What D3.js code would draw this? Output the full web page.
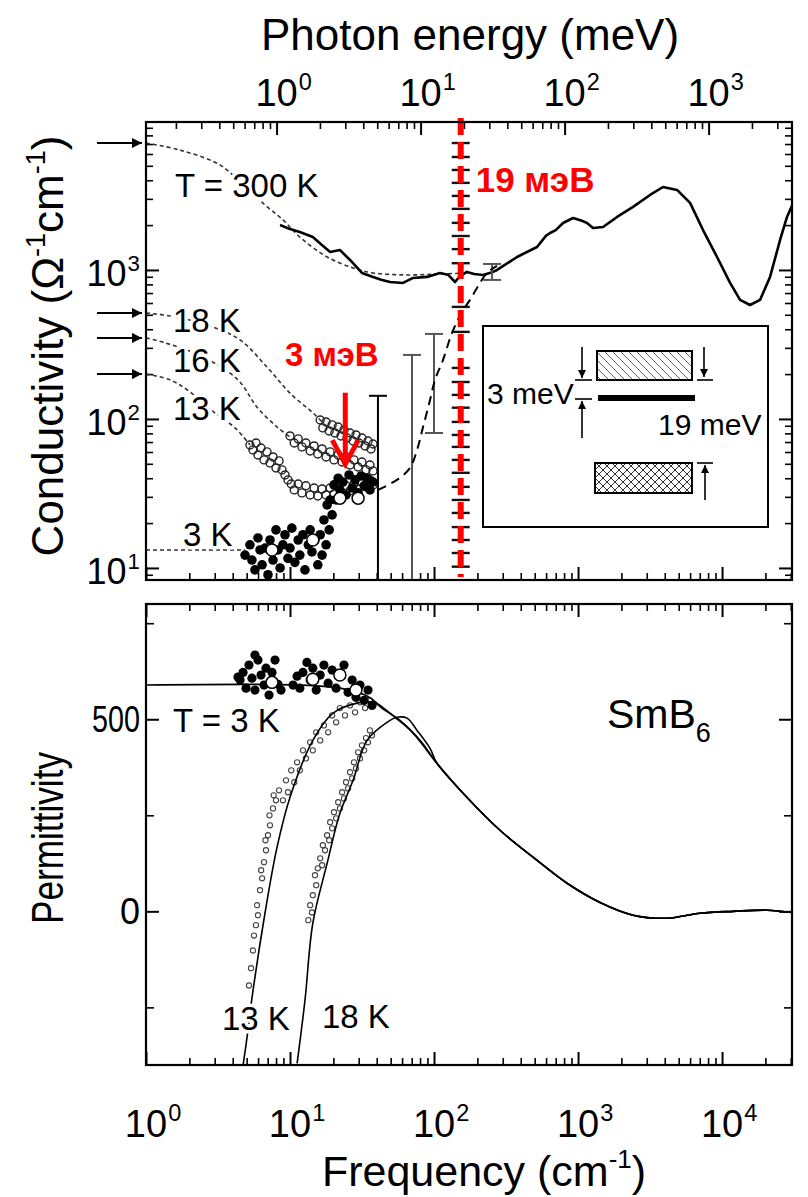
<!DOCTYPE html>
<html><head><meta charset="utf-8">
<script src="https://cdn.jsdelivr.net/npm/d3@7"></script>
<style>body{margin:0;background:#fff}svg{display:block}text{font-family:"Liberation Sans",Arial,Helvetica,sans-serif;fill:#000}</style>
</head><body><svg id="c" width="808" height="1197"></svg>
<script>
// ---------------- DATA ----------------
const freqDomain = [1, 30600];          // cm^-1
const sigmaDomain = [8.3, 9840];         // Ohm^-1 cm^-1
const epsDomain = [-400, 800];
const CM_PER_MEV = 8.0655;
const freqTickMajors = [1, 10, 100, 1000, 10000];
const energyTickMajors = [1, 10, 100, 1000];
const sigmaTickMajors = [10, 100, 1000];
const epsTickMajors = [0, 500];
const epsTickMinors = [-250, 250, 750];
const gapMeV = 19;            // red dashed line
const impurityMeV = 3;        // red arrow
const redArrowSigma = [150, 49];

// T = 300 K measured conductivity
const sigma300 = [[8.53,2004],[10.0,1880],[11.7,1799],[14.4,1664],[16.5,1480],[19.0,1321],[22.2,1361],[26.1,1167],[31.6,955],[37.7,898],[43,860],[49.5,830],[60.9,818],[71.5,884],[89.4,898],[110,955],[125,930],[140,830],[150,900],[169,970],[190,940],[219,926],[250,960],[274,1000],[377,1222],[519,1426],[600,1700],[640,1771],[700,1850],[787,2065],[923,2233],[1050,2150],[1155,2065],[1271,1913],[1492,1944],[1867,2269],[2410,2649],[3162,3187],[3893,3604],[4870,3444],[5997,2817],[7380,1853],[9230,1222],[11370,818],[13340,629],[15640,582],[18360,629],[21540,898],[25290,1589],[28260,2269],[30600,2700]];
// dashed fits
const fit300 = [[1,7110],[1.72,6380],[3.26,5070],[4.72,3715],[6.70,2730],[8.94,2168],[11.7,1664],[18.1,1222],[27.4,1032],[37.7,955],[64.9,926],[110,940],[178,955]];
const fit18 = [[1,514],[1.47,491],[2.6,430],[4.50,339],[6.92,223],[10.0,149],[14.4,110],[16.7,95.5]];
const fit16 = [[1,350],[1.36,324],[2.5,260],[4.35,183],[5.90,120],[8.13,88.3],[10.0,75.7]];
const fit13 = [[1,200],[1.47,183],[2.02,152],[3.0,110],[4.15,87.1],[5.27,66.9]];
const fit3 = [[1,13.2],[4.87,13.2]];
const ext3 = [[40.8,33.4],[55.3,39.0],[68.1,46.9],[76.2,61.9],[83.9,88.3],[93.8,134],[101.6,183],[115.5,249],[133.4,378],[156.4,523],[177.8,630],[208.6,818],[233,955],[273.8,1064]];
const dcSigma = [7110, 514, 350, 200];   // arrows at left
// measured points
const sig18 = [[16.2,98.4],[16.9,87.1],[17.8,95.5],[18.7,83.1],[19.6,91.2],[20.5,80.5],[21.6,88.3],[22.6,76.9],[23.7,84.4],[24.9,74.5],[26.1,80.5],[27.4,71.1],[28.7,78.1],[30.1,69.0],[31.6,74.5],[33.2,65.9],[34.8,71.1],[36.5,62.9],[37.7,67.9]];
const sig16 = [[10.0,76.9],[10.7,69.0],[11.4,73.5],[12.1,64.9],[12.9,69.0],[13.8,61.0],[14.7,65.9],[15.6,58.2],[16.7,62.9],[17.8,55.6],[19.0,60.1],[20.2,53.1],[21.6,57.3],[23.0,51.4],[24.5,55.6],[26.1,49.1],[27.8,53.1],[29.7,47.6],[31.6,51.4],[33.7,45.5],[35.9,49.1],[37.7,44.8]];
const sig13 = [[5.27,66.9],[5.53,62.0],[5.81,69.0],[5.99,57.3],[6.29,63.8],[6.60,53.1],[6.92,60.1],[7.26,50.7],[7.62,55.6],[7.99,46.9],[8.39,52.3],[8.80,45.5],[9.23,42.1],[9.68,39.0],[10.2,36.6],[10.7,33.4],[11.4,36.6],[12.1,31.9],[12.9,35.6],[13.8,30.9],[14.7,34.4],[15.6,30.4],[16.7,33.9],[17.8,30.9],[19.0,34.4],[20.2,31.4],[21.6,35.0],[23.0,31.9],[24.5,35.6],[26.1,32.9],[27.8,36.6],[29.7,33.9],[31.6,37.7],[33.7,35.0],[35.9,39.0],[37.7,36.1]];
const sig3 = [[4.87,12.2],[5.27,14.3],[5.44,11.3],[5.71,9.7],[5.99,15.9],[6.19,13.2],[6.40,10.5],[6.70,13.6],[7.03,9.0],[7.26,15.4],[7.62,11.3],[7.99,18.0],[8.25,13.2],[8.53,10.0],[8.93,14.3],[9.23,16.7],[9.68,11.6],[10.0,13.6],[10.3,18.5],[10.8,10.9],[11.4,15.4],[11.7,12.2],[12.3,16.7],[12.7,9.7],[13.4,14.3],[13.8,18.0],[14.2,12.8],[14.9,15.4],[15.6,10.5],[16.2,16.7],[16.7,12.2],[17.2,21.0],[17.8,14.3],[18.1,26.5],[18.7,18.0],[19.0,28.6],[19.6,22.7],[20.2,36.1],[20.9,28.6],[21.6,40.0],[22.2,33.4],[23.3,37.7],[24.5,30.9],[25.7,42.1],[27.0,34.4],[28.3,39.0],[29.7,31.9],[31.2,41.4],[32.7,35.6],[34.3,40.0],[35.9,33.4],[37.7,37.7]];
const sig3Open = [[7.5,13.2],[14.4,15.4],[22.2,29.4],[29.7,29.4]];
// error bars
const errF = [40.8, 70.3, 100, 253];
const errHi = [143, 269, 372, 1097];
const errLo = [8.3, 8.3, 80.5, 857];
// marks along the 19 meV line
const capLevels = [7110,5730,4690,3840,3140,2570,2070,1690,1380,1110,565,384,220,177,145,119,95.5,78.1,64.9,53.1,43.5,35.0,28.6,23.4,18.8,15.4,12.6,10.2];

// permittivity
const epsTail = [[105,385],[169,297],[287,211],[487,141],[839,73],[1422,23],[2410,-10],[4150,-18],[7030,-5],[11920,0],[20540,3],[30600,-3]];
const eps3Line = [[1,589],[11.7,589],[22.2,581],[33.2,563],[42.2,536],[53.6,505],[71.5,464]];
const eps13Line = [[4.72,-401],[5.03,-328],[5.45,-224],[6.70,-5],[8.13,167],[10.0,297],[14.4,445],[19.9,516],[29.2,542],[37.7,544],[45.7,523],[58,497],[80,445]];
const eps18Line = [[11.2,-396],[12.7,-232],[14.4,-31],[18.1,125],[22.2,255],[27.4,341],[34.3,445],[47.2,492],[55.3,505],[64.9,503],[76.2,471],[93.8,424]];
const eps3 = [[4.50,602],[4.72,622],[4.95,581],[5.19,641],[5.44,607],[5.71,576],[5.99,654],[6.29,615],[6.60,589],[6.81,633],[7.15,563],[7.50,622],[7.87,654],[8.25,591],[8.66,576],[10.5,589],[11.2,612],[11.7,581],[12.3,622],[13.1,648],[13.8,602],[14.4,633],[15.2,576],[16.2,615],[17.2,641],[18.4,594],[19.6,628],[20.9,581],[22.2,615],[23.7,641],[25.3,570],[27.0,602],[28.7,557],[30.6,589],[32.7,549],[34.8,576],[37.1,536],[5.71,667],[4.35,610]];
const eps3Open = [[7.50,596],[14.4,604],[22.2,615],[28.7,576]];
const eps13 = [[5.19,-193],[5.36,-148],[5.53,-102],[5.62,-63],[5.80,-36],[5.90,16],[5.99,-10],[6.19,55],[6.40,86],[6.30,107],[6.60,128],[6.81,159],[6.75,185],[7.03,198],[7.26,224],[7.20,250],[7.62,268],[7.99,289],[7.70,302],[8.39,315],[8.93,289],[9.38,341],[9.68,310],[10.2,367],[10.7,336],[11.2,388],[11.7,367],[12.3,419],[12.9,398],[13.8,440],[14.4,419],[15.2,466],[16.2,445],[17.2,484],[18.4,466],[19.6,510],[20.9,492],[22.2,529],[24.1,510],[26.1,536],[28.3,518],[30.6,544],[33.2,529],[35.9,549]];
const eps18 = [[13.4,-23],[13.8,16],[14.2,-3],[14.4,42],[15.2,68],[14.9,94],[15.6,112],[16.2,138],[16.7,120],[16.9,172],[17.5,159],[18.1,198],[18.7,185],[19.0,232],[19.6,216],[20.2,258],[20.9,242],[21.6,284],[22.2,268],[23.0,310],[23.7,294],[24.5,336],[25.3,320],[26.1,362],[27.0,346],[27.8,388],[28.7,372],[29.7,414],[30.6,398],[31.6,432],[32.7,419],[33.7,451],[34.8,440],[35.9,471],[37.1,458]];

// ---------------- DRAWING ----------------
const svg = d3.select("#c");
const L = 146, R = 792, T1 = 122, B1 = 580, T2 = 604, B2 = 1065;
const x = d3.scaleLog().domain(freqDomain).range([L, R]);
const xE = d3.scaleLog().domain(freqDomain.map(f => f / CM_PER_MEV)).range([L, R]);
const yT = d3.scaleLog().domain(sigmaDomain).range([B1, T1]);
const yB = d3.scaleLinear().domain(epsDomain).range([B2, T2]);

const defs = svg.append("defs");
defs.append("clipPath").attr("id","clipT").append("rect").attr("x",L).attr("y",T1).attr("width",R-L).attr("height",B1-T1);
defs.append("clipPath").attr("id","clipB").append("rect").attr("x",L).attr("y",T2).attr("width",R-L).attr("height",B2-T2);
const ph = defs.append("pattern").attr("id","hatch").attr("patternUnits","userSpaceOnUse").attr("width",8).attr("height",8);
ph.append("path").attr("d","M-1,-1L9,9M-1,7L1,9M7,-1L9,1").attr("stroke","#666").attr("stroke-width",1);
const pc = defs.append("pattern").attr("id","xhatch").attr("patternUnits","userSpaceOnUse").attr("width",8).attr("height",8);
pc.append("path").attr("d","M-1,-1L9,9M-1,7L1,9M7,-1L9,1M-1,9L9,-1M-1,1L1,-1M7,9L9,7").attr("stroke","#333").attr("stroke-width",1);
function marker(id, w, h, color){
  defs.append("marker").attr("id",id).attr("viewBox","0 0 10 10").attr("refX",10).attr("refY",5)
    .attr("markerWidth",w).attr("markerHeight",h).attr("markerUnits","userSpaceOnUse").attr("orient","auto")
    .append("path").attr("d","M0,0L10,5L0,10z").attr("fill",color);
}
marker("ahL", 13, 10, "#000");
marker("ahS", 8, 8, "#000");

function logVals(scale){
  const [a,b] = scale.domain(), out = [];
  for (let e = Math.floor(Math.log10(a)); e <= Math.ceil(Math.log10(b)); e++)
    for (let k = 1; k < 10; k++){ const v = k * Math.pow(10,e); if (v >= a*0.999 && v <= b*1.001) out.push({v, major:k===1}); }
  return out;
}
function tickSet(tr, axisGen, scale, vals, len, sw){
  const g = svg.append("g").attr("transform", tr);
  g.call(axisGen(scale).tickValues(vals).tickSize(len).tickFormat(""));
  g.select(".domain").remove();
  g.selectAll("text").remove();
  g.selectAll("line").attr("stroke","#000").attr("stroke-width",sw);
}
function logTicks(tr, axisGen, scale){
  const v = logVals(scale);
  tickSet(tr, axisGen, scale, v.filter(d=>d.major).map(d=>d.v), 13, 2);
  tickSet(tr, axisGen, scale, v.filter(d=>!d.major).map(d=>d.v), 7, 1.6);
}
// top panel ticks
logTicks(`translate(0,${T1})`, d3.axisBottom, xE);
logTicks(`translate(0,${B1})`, d3.axisTop, x);
logTicks(`translate(${L},0)`, d3.axisRight, yT);
logTicks(`translate(${R},0)`, d3.axisLeft, yT);
// bottom panel ticks
logTicks(`translate(0,${T2})`, d3.axisBottom, x);
logTicks(`translate(0,${B2})`, d3.axisTop, x);
tickSet(`translate(${L},0)`, d3.axisRight, yB, epsTickMajors, 13, 2);
tickSet(`translate(${L},0)`, d3.axisRight, yB, epsTickMinors, 8, 1.6);
tickSet(`translate(${R},0)`, d3.axisLeft, yB, epsTickMajors, 13, 2);
tickSet(`translate(${R},0)`, d3.axisLeft, yB, epsTickMinors, 8, 1.6);

// power-of-ten labels
function powLabel(px, py, e, fs, align){
  const g = svg.append("g");
  const t = g.append("text").attr("y",py).attr("font-size",fs).text("10");
  const s = g.append("text").attr("y",py - fs*0.42).attr("font-size",fs*0.62).text(e);
  const w = t.node().getComputedTextLength(), ws = s.node().getComputedTextLength();
  const x0 = align === "middle" ? px - w/2 : px - w - ws - 1;
  t.attr("x", x0); s.attr("x", x0 + w + 1);
}
energyTickMajors.forEach(v => powLabel(xE(v), 106, Math.round(Math.log10(v)), 38, "middle"));
freqTickMajors.forEach(v => powLabel(x(v), 1137, Math.round(Math.log10(v)), 38, "middle"));
sigmaTickMajors.forEach(v => powLabel(140, yT(v)+16, Math.round(Math.log10(v)), 36, "end"));
epsTickMajors.forEach(v => {
  const t = svg.append("text").attr("x",140).attr("y",yB(v)+13).attr("text-anchor","end").attr("font-size",36).text(v);
  if (String(v).length > 1) t.attr("textLength", 48).attr("lengthAdjust","spacingAndGlyphs");
});

// ---------- top panel content ----------
const gT = svg.append("g").attr("clip-path","url(#clipT)");
const lineT = d3.line().x(d=>x(d[0])).y(d=>yT(d[1]));
const smoothT = d3.line().x(d=>x(d[0])).y(d=>yT(d[1])).curve(d3.curveCatmullRom.alpha(0.5));
[fit300, fit18, fit16, fit13, fit3].forEach(a => gT.append("path").attr("d",smoothT(a)).attr("fill","none").attr("stroke","#333").attr("stroke-width",1.6).attr("stroke-dasharray","4,3"));
gT.append("path").attr("d",lineT(sigma300)).attr("fill","none").attr("stroke","#000").attr("stroke-width",2.6).attr("stroke-linejoin","round");
// error bars
errF.forEach((f,i) => {
  const col = i === 0 ? "#000" : "#555";
  const g = gT.append("g").attr("stroke",col).attr("stroke-width",2);
  g.append("line").attr("x1",x(f)).attr("x2",x(f)).attr("y1",yT(errHi[i])).attr("y2",yT(errLo[i]));
  g.append("line").attr("x1",x(f)-9).attr("x2",x(f)+9).attr("y1",yT(errHi[i])).attr("y2",yT(errHi[i]));
  if (errLo[i] > sigmaDomain[0]) g.append("line").attr("x1",x(f)-9).attr("x2",x(f)+9).attr("y1",yT(errLo[i])).attr("y2",yT(errLo[i]));
});
gT.append("path").attr("d",smoothT(ext3)).attr("fill","none").attr("stroke","#000").attr("stroke-width",2).attr("stroke-dasharray","9,6");
// data
[sig18, sig16, sig13].forEach(a => gT.append("g").selectAll("circle").data(a).join("circle")
  .attr("cx",d=>x(d[0])).attr("cy",d=>yT(d[1])).attr("r",4).attr("fill","none").attr("stroke","#222").attr("stroke-width",1.4));
gT.append("g").selectAll("circle").data(sig3).join("circle")
  .attr("cx",d=>x(d[0])).attr("cy",d=>yT(d[1])).attr("r",4.8).attr("fill","#000");
gT.append("g").selectAll("circle").data(sig3Open).join("circle")
  .attr("cx",d=>x(d[0])).attr("cy",d=>yT(d[1])).attr("r",6).attr("fill","#fff").attr("stroke","#000").attr("stroke-width",1.5);
// marks along 19 meV
const xg = xE(gapMeV);
gT.append("g").selectAll("line").data(capLevels).join("line")
  .attr("x1",xg-9).attr("x2",xg+9).attr("y1",d=>yT(d)).attr("y2",d=>yT(d)).attr("stroke","#111").attr("stroke-width",2.4);
// red dashed line
svg.append("line").attr("x1",xg).attr("x2",xg).attr("y1",T1-4).attr("y2",B1-3)
  .attr("stroke","#ff0000").attr("stroke-width",6).attr("stroke-dasharray","17,7");

// labels with halo
function halo(px, py, txt, fs){
  return svg.append("text").attr("x",px).attr("y",py).attr("font-size",fs).text(txt)
    .attr("stroke","#fff").attr("stroke-width",7).attr("paint-order","stroke").attr("stroke-linejoin","round");
}
halo(175, 197, "T = 300 K", 33);
halo(173, 332, "18 K", 33);
halo(173, 372, "16 K", 33);
halo(173, 420, "13 K", 33);
halo(183, 546, "3 K", 33);

// left arrows for dc conductivity
svg.append("g").selectAll("line").data(dcSigma).join("line")
  .attr("x1",97).attr("x2",142).attr("y1",d=>yT(d)).attr("y2",d=>yT(d))
  .attr("stroke","#000").attr("stroke-width",2).attr("marker-end","url(#ahL)");

// red annotations
const xa = xE(impurityMeV), ya0 = yT(redArrowSigma[0]), ya1 = yT(redArrowSigma[1]);
svg.append("line").attr("x1",xa).attr("x2",xa).attr("y1",ya0).attr("y2",ya1-3).attr("stroke","#ff0000").attr("stroke-width",5);
svg.append("path").attr("d",`M${xa-13},${ya1-25}L${xa},${ya1-1}L${xa+13},${ya1-25}`).attr("fill","none").attr("stroke","#ff0000").attr("stroke-width",5).attr("stroke-linejoin","miter");
svg.append("text").attr("x",285).attr("y",366).attr("font-size",33).attr("font-weight","bold").style("fill","#ff0000").text("3 мэВ");
svg.append("text").attr("x",xg+15).attr("y",192).attr("font-size",35).attr("font-weight","bold").style("fill","#ff0000").text("19 мэВ");

// inset
const gi = svg.append("g").attr("transform","translate(483,326)");
gi.append("rect").attr("width",285).attr("height",201).attr("fill","#fff").attr("stroke","#000").attr("stroke-width",2);
gi.append("rect").attr("x",114).attr("y",25).attr("width",95).attr("height",29).attr("fill","url(#hatch)").attr("stroke","#000").attr("stroke-width",2);
gi.append("rect").attr("x",115).attr("y",69).attr("width",97).attr("height",6).attr("fill","#000");
gi.append("rect").attr("x",112).attr("y",137).attr("width",97).attr("height",30).attr("fill","url(#xhatch)").attr("stroke","#000").attr("stroke-width",2);
gi.append("text").attr("x",4).attr("y",78).attr("font-size",30).text("3 meV");
gi.append("text").attr("x",175).attr("y",109).attr("font-size",30).text("19 meV");
const ia = gi.append("g").attr("stroke","#000").attr("stroke-width",1.6);
[[92,109,54],[92,109,73],[214,230,54],[214,230,137]].forEach(d => ia.append("line").attr("x1",d[0]).attr("x2",d[1]).attr("y1",d[2]).attr("y2",d[2]));
[[99,21,52],[99,112,75],[221,21,51],[222,174,139]].forEach(d => ia.append("line").attr("x1",d[0]).attr("x2",d[0]).attr("y1",d[1]).attr("y2",d[2]).attr("marker-end","url(#ahS)"));

// ---------- bottom panel ----------
const gB = svg.append("g").attr("clip-path","url(#clipB)");
const lineB = d3.line().x(d=>x(d[0])).y(d=>yB(d[1])).curve(d3.curveCatmullRom.alpha(0.5));
gB.append("g").selectAll("circle").data(eps13.concat(eps18)).join("circle")
  .attr("cx",d=>x(d[0])).attr("cy",d=>yB(d[1])).attr("r",2.6).attr("fill","none").attr("stroke","#444").attr("stroke-width",1.1);
[eps3Line, eps13Line, eps18Line].forEach(a => gB.append("path").attr("d",lineB(a.concat(epsTail))).attr("fill","none").attr("stroke","#000").attr("stroke-width",1.6));
gB.append("g").selectAll("circle").data(eps3).join("circle")
  .attr("cx",d=>x(d[0])).attr("cy",d=>yB(d[1])).attr("r",4.6).attr("fill","#000");
gB.append("g").selectAll("circle").data(eps3Open).join("circle")
  .attr("cx",d=>x(d[0])).attr("cy",d=>yB(d[1])).attr("r",6).attr("fill","#fff").attr("stroke","#000").attr("stroke-width",1.5);
halo(173, 732, "T = 3 K", 33);
halo(222, 1030, "13 K", 33);
halo(322, 1028, "18 K", 33);
const sm = svg.append("text").attr("x",607).attr("y",728).attr("font-size",41);
sm.append("tspan").text("SmB");
sm.append("tspan").attr("font-size",27).attr("dy",14).text("6");

// frames
[[T1,B1],[T2,B2]].forEach(([t,b]) => svg.append("rect").attr("x",L).attr("y",t).attr("width",R-L).attr("height",b-t).attr("fill","none").attr("stroke","#000").attr("stroke-width",2.2));

// axis titles
svg.append("text").attr("x",470).attr("y",50).attr("text-anchor","middle").attr("font-size",44).text("Photon energy (meV)");
const ft = svg.append("text").attr("x",484).attr("y",1186).attr("text-anchor","middle").attr("font-size",43);
ft.append("tspan").text("Frequency (cm");
ft.append("tspan").attr("font-size",26).attr("dy",-18).text("-1");
ft.append("tspan").attr("dy",18).text(")");
const ct = svg.append("text").attr("transform","translate(63,346) rotate(-90)").attr("text-anchor","middle").attr("font-size",44);
ct.append("tspan").text("Conductivity (Ω");
ct.append("tspan").attr("font-size",27).attr("dy",-18).text("-1");
ct.append("tspan").attr("dy",18).text("cm");
ct.append("tspan").attr("font-size",27).attr("dy",-18).text("-1");
ct.append("tspan").attr("dy",18).text(")");
svg.append("text").attr("transform","translate(63,838) rotate(-90)").attr("text-anchor","middle").attr("font-size",44)
  .attr("textLength",172).attr("lengthAdjust","spacingAndGlyphs").text("Permittivity");
</script></body></html>
